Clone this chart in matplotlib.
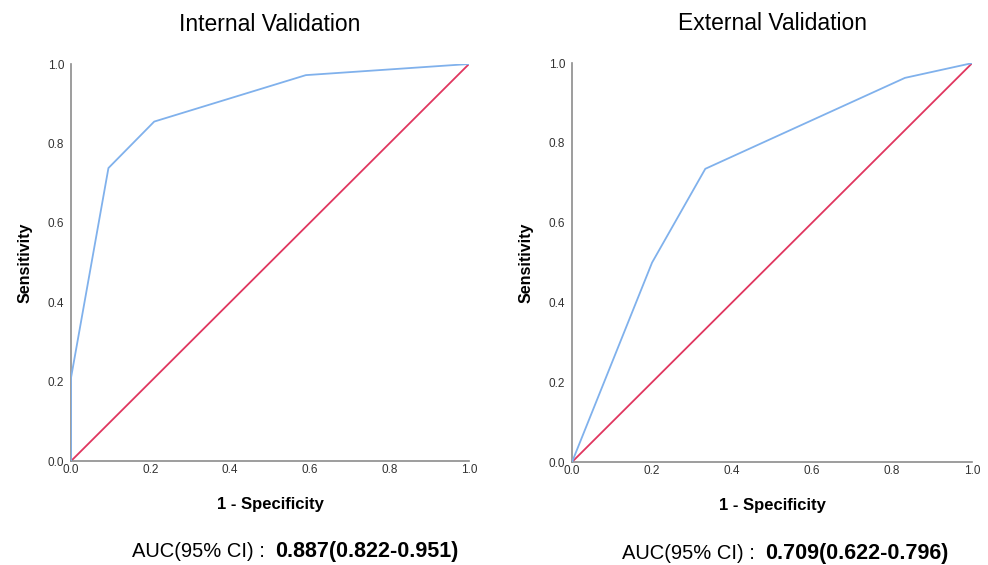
import matplotlib
matplotlib.use("Agg")
import matplotlib.pyplot as plt

plt.rcParams['font.family'] = ['Liberation Sans', 'DejaVu Sans']

# ROC 曲线数据
int_fpr = [0.0, 0.0, 0.094, 0.209, 0.59, 1.0]
int_tpr = [0.0, 0.21, 0.738, 0.855, 0.972, 1.0]
ext_fpr = [0.0, 0.2, 0.333, 0.832, 1.0]
ext_tpr = [0.0, 0.5, 0.735, 0.963, 1.0]

titles = ['Internal Validation', 'External Validation']
auc_values = ['0.887(0.822-0.951)', '0.709(0.622-0.796)']
ticks = [0.0, 0.2, 0.4, 0.6, 0.8, 1.0]

blue = '#80b1ec'
red = '#e0365f'
spine_col = '#8c8c8c'

fig = plt.figure(figsize=(9.88, 5.65), dpi=100)
ax1 = fig.add_axes([0.0719, 0.184, 0.4028, 0.7027])
ax2 = fig.add_axes([0.579, 0.1823, 0.405, 0.706])

# AUC 文字位置（轴坐标）
auc_pos = [(0.487, 0.513, -0.229), (0.4575, 0.4825, -0.23)]

for ax, fpr, tpr, title, auc, pos in zip([ax1, ax2], [int_fpr, ext_fpr], [int_tpr, ext_tpr],
                                         titles, auc_values, auc_pos):
    ax.plot([0, 1], [0, 1], color=red, lw=1.3, zorder=2)
    ax.plot(fpr, tpr, color=blue, lw=1.3, zorder=3)
    ax.set_xlim(0, 1)
    ax.set_ylim(0, 1)
    ax.set_xticks(ticks)
    ax.set_yticks(ticks)
    ax.set_xticklabels(['%.1f' % t for t in ticks])
    ax.set_yticklabels(['%.1f' % t for t in ticks])
    ax.tick_params(length=0, labelsize=8.5, colors='#333333')
    ax.tick_params(axis='y', pad=5)
    ax.tick_params(axis='x', pad=2)
    for s in ['top', 'right']:
        ax.spines[s].set_visible(False)
    for s in ['left', 'bottom']:
        ax.spines[s].set_color(spine_col)
        ax.spines[s].set_linewidth(1.2)
    ax.set_title(title, fontsize=16.5, pad=24)
    ax.set_xlabel('1 - Specificity', fontsize=12, fontweight='bold', labelpad=15)
    ax.set_ylabel('Sensitivity', fontsize=11.5, fontweight='bold', labelpad=11)
    ax.text(pos[0], pos[2], 'AUC(95% CI) :', transform=ax.transAxes, fontsize=14.5,
            ha='right', va='center')
    ax.text(pos[1], pos[2], auc, transform=ax.transAxes, fontsize=15.5,
            fontweight='bold', ha='left', va='center')

fig.savefig('out.png', dpi=100)
